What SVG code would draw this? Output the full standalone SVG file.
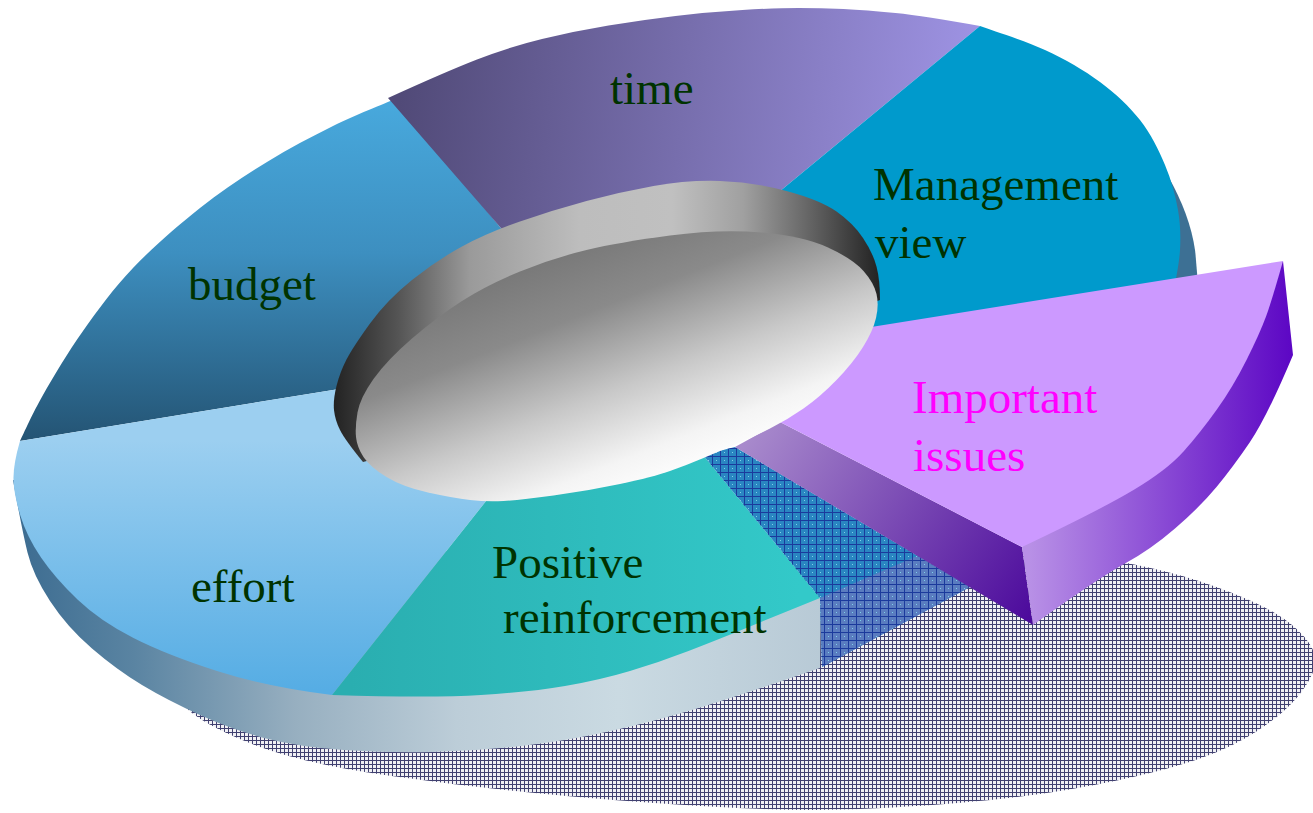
<svg xmlns="http://www.w3.org/2000/svg" width="1313" height="813" viewBox="0 0 1313 813">
<style>
  .lbl { font-family: "Liberation Serif", "Times New Roman", serif; font-size: 47px; fill: #003300; }
  .hot { fill: #ff00ff; }
</style>
<defs>
  <pattern id="shadowPat" width="4" height="4" patternUnits="userSpaceOnUse">
    <rect width="4" height="4" fill="#f0f0f4"/>
    <rect width="4" height="1" fill="#404070"/>
    <rect width="1" height="4" fill="#404070"/>
  </pattern>
  <pattern id="hatchPat" width="8" height="8" patternUnits="userSpaceOnUse">
    <rect width="8" height="1" fill="#1b3a9c"/>
    <rect width="1" height="8" fill="#1b3a9c"/>
    <rect x="4" y="4" width="1" height="1" fill="#7fd0e8"/>
  </pattern>
  <linearGradient id="gSide" gradientUnits="userSpaceOnUse" x1="13" y1="0" x2="820" y2="0">
    <stop offset="0" stop-color="#3b6b90"/>
    <stop offset="0.15" stop-color="#5a84a2"/>
    <stop offset="0.35" stop-color="#97afc0"/>
    <stop offset="0.55" stop-color="#bccdd8"/>
    <stop offset="0.75" stop-color="#cadae2"/>
    <stop offset="1" stop-color="#b8cad6"/>
  </linearGradient>
  <linearGradient id="gBudget" gradientUnits="userSpaceOnUse" x1="0" y1="100" x2="0" y2="440">
    <stop offset="0" stop-color="#48a9dd"/>
    <stop offset="0.45" stop-color="#3d8fc0"/>
    <stop offset="1" stop-color="#245474"/>
  </linearGradient>
  <linearGradient id="gTime" gradientUnits="userSpaceOnUse" x1="400" y1="100" x2="960" y2="160">
    <stop offset="0" stop-color="#514a78"/>
    <stop offset="1" stop-color="#9d92e2"/>
  </linearGradient>
  <linearGradient id="gEffort" gradientUnits="userSpaceOnUse" x1="0" y1="440" x2="0" y2="690">
    <stop offset="0" stop-color="#9ccff0"/>
    <stop offset="1" stop-color="#56ade4"/>
  </linearGradient>
  <linearGradient id="gPos" gradientUnits="userSpaceOnUse" x1="350" y1="0" x2="800" y2="0">
    <stop offset="0" stop-color="#2aaeb0"/>
    <stop offset="1" stop-color="#33c9c9"/>
  </linearGradient>
  <linearGradient id="gRadial" gradientUnits="userSpaceOnUse" x1="750" y1="435" x2="1030" y2="620">
    <stop offset="0" stop-color="#a88acc"/>
    <stop offset="1" stop-color="#4c0a9c"/>
  </linearGradient>
  <linearGradient id="gOuter" gradientUnits="userSpaceOnUse" x1="1030" y1="0" x2="1293" y2="0">
    <stop offset="0" stop-color="#b890e6"/>
    <stop offset="1" stop-color="#5c06c4"/>
  </linearGradient>
  <linearGradient id="gRim" gradientUnits="userSpaceOnUse" x1="333" y1="0" x2="880" y2="0">
    <stop offset="0" stop-color="#222222"/>
    <stop offset="0.12" stop-color="#555555"/>
    <stop offset="0.25" stop-color="#9a9a9a"/>
    <stop offset="0.45" stop-color="#bdbdbd"/>
    <stop offset="0.62" stop-color="#c0c0c0"/>
    <stop offset="0.75" stop-color="#a0a0a0"/>
    <stop offset="0.86" stop-color="#6a6a6a"/>
    <stop offset="1" stop-color="#222222"/>
  </linearGradient>
  <linearGradient id="gDisc" gradientUnits="userSpaceOnUse" x1="560" y1="235" x2="660" y2="490">
    <stop offset="0" stop-color="#747474"/>
    <stop offset="0.3" stop-color="#8a8a8a"/>
    <stop offset="0.6" stop-color="#c8c8c8"/>
    <stop offset="0.85" stop-color="#f4f4f4"/>
    <stop offset="1" stop-color="#ffffff"/>
  </linearGradient>
</defs>

<g id="shadow">
  <path fill="url(#shadowPat)" d="M185,706.5 Q200,723 249.5,743 Q299,763 388,775.5 Q477,788 566.5,796 Q656,804 738,808 Q820,812 893.5,807.5 Q967,803 1017,797 Q1067,791 1117,780.5 Q1167,770 1200,758.5 Q1233,747 1258,730.5 Q1283,714 1296.5,698 Q1310,682 1314,669 Q1318,656 1309,643 Q1300,630 1283.5,618.5 Q1267,607 1233.5,593.5 Q1200,580 1163.5,571 Q1127,562 1083.5,556 Q1040,550 970,547.5 Q900,545 750,560 Q600,575 450,607.5 Q300,640 235,665 Q170,690 185,706.5 Z"/>
</g>

<g id="side-wall">
  <path fill="url(#gSide)" d="M13,480 Q22,530 27.5,552.5 Q33,575 50,601 Q67,627 92,648.5 Q117,670 142,685 Q167,700 200,715 Q233,730 266,738.5 Q299,747 343.5,750 Q388,753 432.5,752 Q477,751 521.5,746 Q566,741 611,731 Q656,721 700.5,707.5 Q745,694 820,668 L821,598 L500,560 Z"/>
  <path fill="#3d7094" d="M1168,176 Q1190,215 1195,250 Q1198,275 1198,300 L1150,300 Z"/>
</g>

<g id="slice-budget">
  <path fill="url(#gBudget)" d="M20,441 C23.8,433.3 32.5,413.3 43,395 C53.5,376.7 68,352.2 83,331 C98,309.8 113.5,288.5 133,268 C152.5,247.5 177.7,225.7 200,208 C222.3,190.3 244.8,175.7 267,162 C289.2,148.3 311.7,136.5 333,126 C354.3,115.5 384.7,103.5 395,99 L500,227 L540,275 L450,371 L333,390 Z"/>
  <text class="lbl" x="188" y="300">budget</text>
</g>

<g id="slice-time">
  <path fill="url(#gTime)" d="M388,98 Q445,72 477,59.5 Q509,47 542,39 Q575,31 608.5,25.5 Q642,20 675.5,16 Q709,12 742.5,10 Q776,8 798.5,8 Q821,8 843.5,9 Q866,10 895.5,13 Q925,16 980,26 L785,187 L700,257 L540,275 L500,227 Z"/>
  <text class="lbl" x="610" y="104">time</text>
</g>

<g id="slice-management">
  <path fill="#009acc" d="M980,26 C990.8,30 1025,40.7 1045,50 C1065,59.3 1084.2,70.3 1100,82 C1115.8,93.7 1129.2,106.2 1140,120 C1150.8,133.8 1158.7,150 1165,165 C1171.3,180 1175.5,195.8 1178,210 C1180.5,224.2 1180.7,236.7 1180,250 C1179.3,263.3 1175,283.3 1174,290 L1168,320 L760,380 L700,257 L785,187 Z"/>
  <text class="lbl" x="873" y="200">Management</text>
  <text class="lbl" x="875" y="258">view</text>
</g>

<g id="slice-effort">
  <path fill="url(#gEffort)" d="M560,408 L332,695 Q267,687 217,671 Q167,655 133.5,638 Q100,621 77.5,599.5 Q55,578 41,557.5 Q27,537 20.5,516 Q14,495 13.5,480 Q13,465 20,441 L333,390 L450,371 Z"/>
  <text class="lbl" x="191" y="602">effort</text>
</g>

<g id="slice-positive">
  <path fill="url(#gPos)" d="M560,408 L332,695 Q432,698 481,695 Q530,692 565,686 Q600,680 630,671 Q660,662 688.5,651 Q717,640 750,626.5 Q783,613 820,598 L703,455 L650,390 Z"/>
  <text class="lbl" x="492" y="578">Positive</text>
  <text class="lbl" x="503" y="633">reinforcement</text>
</g>

<g id="gap">
  <path fill="#2a86c2" d="M703,455 L735,447 L970,587 L822,667 L820,598 Z"/>
  <path fill="#5a7cc0" d="M820,598 L917,556 L970,587 L822,667 Z"/>
  <path fill="url(#hatchPat)" d="M703,455 L735,447 L970,587 L822,667 L820,598 Z"/>
</g>

<g id="slice-important">
  <path fill="url(#gRadial)" d="M735,447 L780,422 L1022,547 L1033,625 Z"/>
  <path fill="url(#gOuter)" d="M1283,261 L1293,355 Q1267,417 1250,442 Q1233,467 1216.5,487 Q1200,507 1175,528.5 Q1150,550 1125,563.5 Q1100,577 1033,625 L1022,547 Z"/>
  <path fill="#cc99ff" d="M790,340 L1283,261 Q1272,300 1266,316.5 Q1260,333 1246.5,360 Q1233,387 1216.5,410 Q1200,433 1183.5,451.5 Q1167,470 1133.5,490 Q1100,510 1022,547 L780,422 L760,400 Z"/>
  <text class="lbl hot" x="912" y="413">Important</text>
  <text class="lbl hot" x="913" y="471">issues</text>
</g>

<g id="hole">
  <path fill="url(#gRim)" d="M363,462 Q345,440 340,430 Q335,420 334,410 Q333,400 336.5,386 Q340,372 346.5,359.5 Q353,347 370,323.5 Q387,300 412,280 Q437,260 462,246.5 Q487,233 520,221.5 Q553,210 586.5,201 Q620,192 653.5,186 Q687,180 720,181 Q753,182 786.5,191 Q820,200 836.5,211.5 Q853,223 863,238 Q873,253 876.5,266.5 Q880,280 880,300 L600,400 Z"/>
  <path fill="url(#gDisc)" d="M356,437 Q355,427 357.5,412.5 Q360,398 373.5,379 Q387,360 412,338.5 Q437,317 462,301 Q487,285 520,271.5 Q553,258 586.5,250 Q620,242 670,235.5 Q720,229 761.5,232.5 Q803,236 828,247.5 Q853,259 863.5,271 Q874,283 876.5,294 Q879,305 876,318 Q873,331 863,347 Q853,363 836.5,380 Q820,397 803.5,408.5 Q787,420 770,428.5 Q753,437 736.5,444 Q720,451 703.5,458 Q687,465 670,471 Q653,477 620,484 Q587,491 553.5,495.5 Q520,500 503.5,501 Q487,502 470,500 Q453,498 428,492.5 Q403,487 386.5,477 Q370,467 363.5,457 Q357,447 356,437 Z"/>
</g>
</svg>
